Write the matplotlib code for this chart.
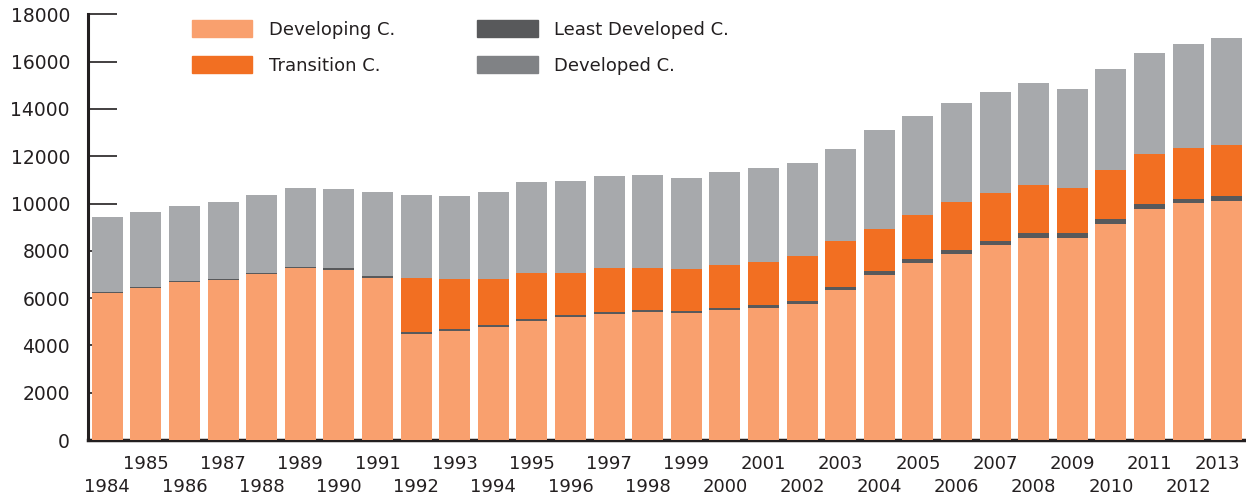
import numpy as np
import matplotlib
matplotlib.use("Agg")
import matplotlib.pyplot as plt
from matplotlib.patches import Patch
from matplotlib.transforms import ScaledTranslation

years = list(range(1984, 2014))

# values (stack order: bottom -> top)
developing = [6200, 6410, 6700, 6770, 7010, 7270, 7200, 6850, 4480, 4610,
              4780, 5030, 5200, 5330, 5410, 5370, 5500, 5580, 5750, 6340,
              6980, 7480, 7860, 8250, 8540, 8540, 9130, 9770, 10020, 10100]
least_dev = [40, 40, 25, 40, 40, 40, 70, 85, 85, 85,
             85, 85, 100, 85, 85, 85, 85, 127, 127, 127,
             170, 170, 170, 170, 210, 210, 210, 210, 170, 210]
transition = [0, 0, 0, 0, 0, 0, 0, 0, 2285, 2115,
              1945, 1945, 1760, 1855, 1775, 1775, 1815, 1833, 1903, 1943,
              1770, 1860, 2030, 2020, 2030, 1910, 2080, 2110, 2160, 2160]
developed = [3190, 3190, 3170, 3250, 3310, 3340, 3340, 3555, 3510, 3510,
             3680, 3850, 3890, 3890, 3930, 3850, 3930, 3960, 3930, 3890,
             4190, 4190, 4190, 4270, 4310, 4180, 4270, 4270, 4390, 4530]

c_dev = "#f9a06e"
c_ldc = "#58595b"
c_tra = "#f26f22"
c_dvd = "#a7a9ac"
c_dvd_leg = "#808285"
dark = "#231f20"

plt.rcParams["font.family"] = "DejaVu Sans"

fig = plt.figure(figsize=(12.46, 4.96), dpi=100)
ax = fig.add_axes([88 / 1246, 1 - 440 / 496, 1 - 88 / 1246, (440 - 14.3) / 496])

x = np.arange(len(years))
dev = np.array(developing)
ldc = np.array(least_dev)
tra = np.array(transition)
dvd = np.array(developed)

w = 0.8
ax.bar(x, dev, w, color=c_dev, zorder=2)
ax.bar(x, ldc, w, bottom=dev, color=c_ldc, zorder=2)
ax.bar(x, tra, w, bottom=dev + ldc, color=c_tra, zorder=2)
ax.bar(x, dvd, w, bottom=dev + ldc + tra, color=c_dvd, zorder=2)

ax.set_xlim(-0.5, len(years) - 0.5)
ax.set_ylim(0, 18000)
ax.set_yticks(range(0, 18001, 2000))
ax.set_axisbelow(True)

for s in ["top", "right"]:
    ax.spines[s].set_visible(False)
ax.spines["left"].set_linewidth(2.2)
ax.spines["left"].set_color(dark)
ax.spines["bottom"].set_linewidth(2.5)
ax.spines["bottom"].set_color(dark)
ax.spines["bottom"].set_zorder(1)

ax.tick_params(axis="y", direction="in", length=21, width=1.2, color=dark,
               pad=13, labelsize=13.5, labelcolor=dark)

# odd years on the upper row (major), even years on the lower row (minor)
odd = [i for i, y in enumerate(years) if y % 2]
even = [i for i, y in enumerate(years) if y % 2 == 0]
ax.set_xticks(odd)
ax.set_xticklabels([str(years[i]) for i in odd])
ax.set_xticks(even, minor=True)
ax.set_xticklabels([str(years[i]) for i in even], minor=True)
ax.tick_params(axis="x", which="major", length=0, pad=11, labelsize=13, labelcolor=dark)
ax.tick_params(axis="x", which="minor", length=0, pad=27, labelsize=13, labelcolor=dark)

# last label is nudged left so it stays inside the figure
last = ax.xaxis.get_major_ticks()[-1].label1
last.set_transform(last.get_transform() + ScaledTranslation(-9 / 100, 0, fig.dpi_scale_trans))

handles = [Patch(color=c_dev, label="Developing C."),
           Patch(color=c_tra, label="Transition C."),
           Patch(color=c_ldc, label="Least Developed C."),
           Patch(color=c_dvd_leg, label="Developed C.")]
fig.legend(handles=handles, loc="upper left", bbox_to_anchor=(192 / 1246, 1 - 20 / 496),
           ncol=2, frameon=False, fontsize=13, handlelength=3.35, handleheight=1.1,
           handletextpad=0.9, columnspacing=4.55, labelspacing=0.95, borderpad=0,
           borderaxespad=0, labelcolor=dark)

fig.savefig("out.png", dpi=100)
